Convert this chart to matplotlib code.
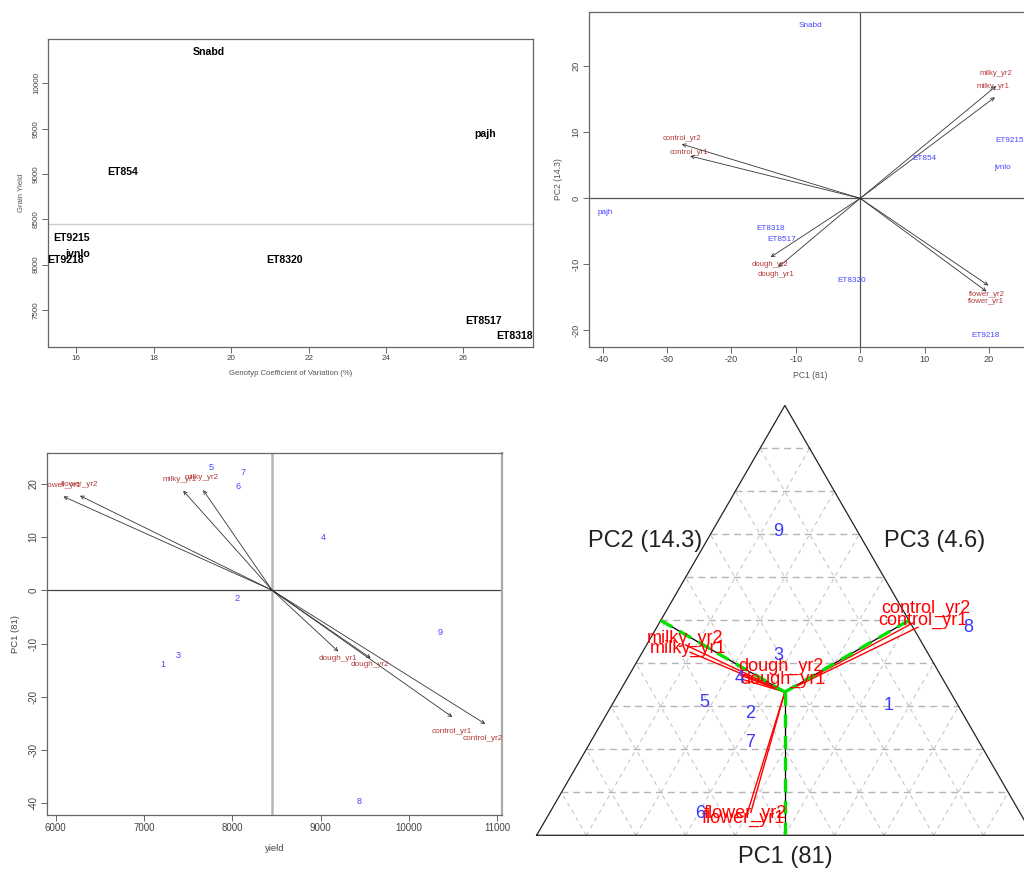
import matplotlib
matplotlib.use("Agg")
import matplotlib.pyplot as plt
import numpy as np

plt.rcParams['font.family'] = ['Liberation Sans', 'DejaVu Sans']
plt.rcParams['axes.unicode_minus'] = False

# ---- top-left: yield vs coefficient of variation
genotypes = ['Snabd', 'pajh', 'ET854', 'ET9215', 'jvnlo', 'ET9218', 'ET8320', 'ET8517', 'ET8318']
cv = [19.42, 26.56, 17.2, 15.87, 16.04, 15.73, 21.38, 26.53, 27.32]
grain_yield = [10350, 9447, 9023, 8296, 8119, 8053, 8053, 7382, 7216]
mean_yield = 8448

# ---- top-right: GGE biplot (PC1 vs PC2)
gen_pc1 = [-7.8, -39.6, 10.0, 23.2, 22.1, 19.5, -1.4, -12.2, -13.9]
gen_pc2 = [26.2, -2.2, 6.1, 8.7, 4.6, -20.7, -12.4, -6.3, -4.6]
variables = ['control_yr1', 'control_yr2', 'milky_yr1', 'milky_yr2',
             'dough_yr1', 'dough_yr2', 'flower_yr1', 'flower_yr2']
var_pc1 = [-26.4, -27.7, 20.9, 21.1, -12.7, -13.9, 19.6, 19.9]
var_pc2 = [6.4, 8.2, 15.3, 17.0, -10.4, -8.9, -14.1, -13.2]
var_lab_pc1 = [-26.6, -27.7, 20.6, 21.0, -13.1, -14.0, 19.5, 19.7]
var_lab_pc2 = [7.0, 9.1, 16.9, 18.9, -11.5, -10.0, -15.6, -14.6]

# ---- bottom-left: yield vs PC1
env_names = ['1', '2', '3', '4', '5', '6', '7', '8', '9']
env_yield = [7217, 8058, 7388, 9028, 7763, 8062, 8118, 9438, 10358]
env_pc1 = [-14.0, -1.5, -12.25, 9.9, 23.0, 19.4, 22.1, -39.75, -7.9]
var_yield = [10491, 10864, 7443, 7670, 9200, 9567, 6087, 6275]
var_ypc1 = [-23.8, -25.1, 18.7, 18.8, -11.5, -12.75, 17.6, 17.75]
var_lab_yield = [10480, 10838, 7398, 7652, 9190, 9556, 6079, 6266]
var_lab_ypc1 = [-26.6, -27.9, 20.8, 21.1, -12.9, -14.0, 19.6, 19.9]
mean_yield2 = 8451

# ---- bottom-right: ternary plot (t1 = PC1 side, t2 = PC2 side, t3 = rest)
env_t1 = [0.303, 0.284, 0.418, 0.364, 0.308, 0.051, 0.216, 0.484, 0.706]
env_t2 = [0.557, 0.288, 0.278, 0.226, 0.183, 0.303, 0.321, 0.627, 0.134]
tip_t1 = [0.484, 0.494, 0.426, 0.443, 0.361, 0.373, 0.050, 0.053]
tip_t2 = [0.526, 0.511, 0.096, 0.078, 0.239, 0.223, 0.399, 0.405]
lab_t1 = [0.501, 0.528, 0.435, 0.458, 0.363, 0.392, 0.040, 0.050]
lab_t2 = [0.528, 0.521, 0.088, 0.070, 0.315, 0.297, 0.396, 0.395]
centre_t = (1/3, 1/3)
axis_end_t1 = [0.0, 0.5, 0.5]
axis_end_t2 = [0.5, 0.0, 0.5]

RED = '#b23a3a'
BLUE = '#4646ff'
TICKC = '#444444'


def r_style(ax, size=6.5):
    for s in ax.spines.values():
        s.set_color('#666666')
        s.set_linewidth(0.9)
    ax.tick_params(direction='out', length=4, width=0.7, color='#666666',
                   labelsize=size, labelcolor=TICKC, pad=2)
    for lab in ax.get_yticklabels():
        lab.set_rotation(90)
        lab.set_va('center')


fig = plt.figure(figsize=(10.24, 8.69), dpi=100)

# top-left
ax1 = fig.add_axes([0.0473, 0.601, 0.473, 0.3538])
ax1.axhline(mean_yield, color='#cccccc', lw=1)
for g, x, y in zip(genotypes, cv, grain_yield):
    ax1.text(x, y, g, ha='center', va='center', fontsize=7.6, fontweight='bold', clip_on=True)
ax1.set_xlim(15.28, 27.79)
ax1.set_ylim(7094, 10487)
ax1.set_xticks([16, 18, 20, 22, 24, 26])
ax1.set_yticks([7500, 8000, 8500, 9000, 9500, 10000])
r_style(ax1, 5.8)
ax1.set_xlabel('Genotyp Coefficient of Variation (%)', fontsize=5.6, color='#555555', labelpad=6)
ax1.set_ylabel('Grain Yield', fontsize=5.6, color='#555555', labelpad=6)

# top-right
ax2 = fig.add_axes([0.5752, 0.6007, 0.4316, 0.3855])
ax2.axhline(0, color='#555555', lw=0.9)
ax2.axvline(0, color='#555555', lw=0.9)
for x, y, lx, ly, v in zip(var_pc1, var_pc2, var_lab_pc1, var_lab_pc2, variables):
    ax2.annotate('', xy=(x, y), xytext=(0, 0),
                 arrowprops=dict(arrowstyle='->', color='#333333', lw=0.6,
                                 mutation_scale=6, shrinkA=0, shrinkB=0))
    ax2.text(lx, ly, v, color=RED, fontsize=5.6, ha='center', va='center')
for g, x, y in zip(genotypes, gen_pc1, gen_pc2):
    ax2.text(x, y, g, color=BLUE, fontsize=5.9, ha='center', va='center', clip_on=True)
ax2.set_xlim(-42.1, 26.5)
ax2.set_ylim(-22.5, 28.2)
ax2.set_xticks([-40, -30, -20, -10, 0, 10, 20])
ax2.set_yticks([-20, -10, 0, 10, 20])
r_style(ax2, 6.6)
ax2.spines['right'].set_visible(False)
ax2.set_xlabel('PC1 (81)', fontsize=6.2, color='#555555', labelpad=5)
ax2.set_ylabel('PC2 (14.3)', fontsize=6.2, color='#555555', labelpad=6)

# bottom-left
ax3 = fig.add_axes([0.0456, 0.0621, 0.4446, 0.4162])
ax3.axvline(mean_yield2, color='#b5b5b5', lw=1.8)
ax3.axhline(0, color='#444444', lw=0.9)
for x, y, lx, ly, v in zip(var_yield, var_ypc1, var_lab_yield, var_lab_ypc1, variables):
    ax3.annotate('', xy=(x, y), xytext=(mean_yield2, 0),
                 arrowprops=dict(arrowstyle='->', color='#333333', lw=0.6,
                                 mutation_scale=6, shrinkA=0, shrinkB=0))
    ax3.text(lx, ly, v, color=RED, fontsize=5.9, ha='center', va='center', clip_on=True)
for e, x, y in zip(env_names, env_yield, env_pc1):
    ax3.text(x, y, e, color=BLUE, fontsize=6.6, ha='center', va='center')
ax3.set_xlim(5898, 11053)
ax3.set_ylim(-42.2, 25.7)
ax3.set_xticks([6000, 7000, 8000, 9000, 10000, 11000])
ax3.set_yticks([-40, -30, -20, -10, 0, 10, 20])
r_style(ax3, 7)
ax3.spines['right'].set_color('#aaaaaa')
ax3.spines['right'].set_linewidth(1.6)
ax3.set_xlabel('yield', fontsize=6.8, color='#444444', labelpad=8)
ax3.set_ylabel('PC1 (81)', fontsize=6.8, color='#444444', labelpad=6)


# bottom-right: ternary
def tern(t1, t2):
    t1 = np.asarray(t1, dtype=float)
    t2 = np.asarray(t2, dtype=float)
    return t2 + t1 / 2, t1 * np.sqrt(3) / 2


ax4 = fig.add_axes([0.5241, 0.0388, 0.4847, 0.4971])
ax4.set_xlim(0, 1)
ax4.set_ylim(0, 0.8704)
ax4.axis('off')

levels = np.arange(1, 10) / 10
for k in levels:
    # parallel to the base
    xs, ys = tern([k, k], [0, 1 - k])
    ax4.plot(xs, ys, color='#b4b4b4', lw=1.0, dashes=(5, 3.5))
    # parallel to the left side
    xs, ys = tern([0, 1 - k], [k, k])
    ax4.plot(xs, ys, color='#c4c4c4', lw=0.75, dashes=(4, 4))
    # parallel to the right side
    xs, ys = tern([0, 1 - k], [1 - k, 0])
    ax4.plot(xs, ys, color='#c4c4c4', lw=0.75, dashes=(4, 4))

xs, ys = tern([0, 1, 0, 0], [0, 0, 1, 0])
ax4.plot(xs, ys, color='#222222', lw=0.9, clip_on=False)

cx, cy = tern(centre_t[0], centre_t[1])
ex, ey = tern(axis_end_t1, axis_end_t2)
for x, y in zip(ex, ey):
    ax4.plot([cx, x], [cy, y], color='black', lw=0.9)
for x, y in zip(tip_t1, tip_t2):
    tx, ty = tern(x, y)
    ax4.plot([cx, tx], [cy, ty], color='red', lw=1.0)
for x, y in zip(ex, ey):
    ax4.plot([cx, x], [cy, y], color='#00e000', lw=2.4, dashes=(4, 2.5))

for v, a, b in zip(variables, lab_t1, lab_t2):
    tx, ty = tern(a, b)
    ax4.text(tx, ty, v, color='red', fontsize=13, ha='center', va='center', clip_on=False)
for e, a, b in zip(env_names, env_t1, env_t2):
    tx, ty = tern(a, b)
    ax4.text(tx, ty, e, color='#3a3aff', fontsize=13, ha='center', va='center', clip_on=False)

ax4.text(0.5, -0.044, 'PC1 (81)', fontsize=17, ha='center', va='center', color='#222222', clip_on=False)
ax4.text(0.218, 0.593, 'PC2 (14.3)', fontsize=17, ha='center', va='center', color='#222222')
ax4.text(0.8025, 0.593, 'PC3 (4.6)', fontsize=17, ha='center', va='center', color='#222222')

fig.savefig('out.png', dpi=100)
